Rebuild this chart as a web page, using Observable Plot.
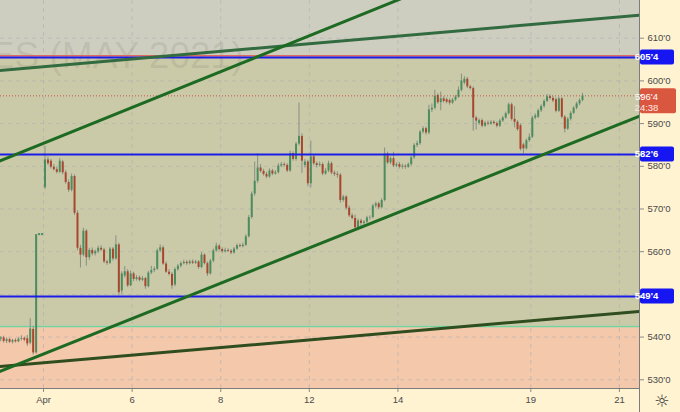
<!DOCTYPE html>
<html><head><meta charset="utf-8">
<script src="https://cdn.jsdelivr.net/npm/d3@7"></script>
<script src="https://cdn.jsdelivr.net/npm/@observablehq/plot@0.6"></script>
<style>
html,body{margin:0;padding:0;background:#fff3d1;}
#chart{position:relative;width:680px;height:412px;overflow:hidden;}
</style></head><body><div id="chart"></div>
<script>
// ---- data ----
const watermark = "CORN FUTURES (MAY 2021)";
const sessions = ["Mar 31","Apr 1","Apr 5","Apr 6","Apr 7","Apr 8","Apr 9","Apr 12","Apr 13","Apr 14","Apr 15","Apr 16","Apr 19","Apr 20","Apr 21"];
const barsPerSession = 15;
// [open, high, low, close], consecutive bars starting with the Mar 31 session
const candles = [
 [539.5,540.1,538.9,539.8],[539.8,540.2,538.6,539.0],[539.0,539.8,538.5,539.4],[539.4,539.7,538.5,538.8],[538.8,539.5,538.4,539.2],
 [539.2,539.6,538.6,538.9],[538.9,539.8,538.7,539.5],[539.5,540.3,539.1,539.7],[539.7,540.0,538.9,539.3],[539.6,540.4,537.8,538.4],
 [538.6,544.3,538.2,541.9],[541.8,542.5,535.8,536.3],[536.3,564.0,536.0,564.0],[564.0,564.0,564.0,564.0],[564.0,564.0,564.0,564.0],
 // Apr 1
 [575.0,584.7,574.5,581.5],[581.5,582.2,580.2,580.6],[581.2,581.6,579.4,579.8],[579.8,580.4,578.9,579.2],[579.2,579.8,578.2,578.6],
 [578.6,581.8,578.3,581.2],[581.0,581.4,578.0,578.5],[578.5,579.0,575.8,576.2],[576.2,576.8,573.9,574.4],[574.4,578.2,574.0,577.6],
 [577.6,578.0,568.5,569.0],[569.0,569.6,560.2,560.8],[560.8,561.5,556.2,559.2],[559.2,565.5,558.8,564.8],[564.8,565.2,556.6,558.6],
 // Apr 5
 [558.6,560.8,558.0,560.3],[560.3,560.9,559.0,559.5],[559.5,560.4,559.0,560.0],[560.0,561.3,559.6,560.8],[560.8,561.4,560.0,560.4],
 [560.4,560.8,557.2,557.6],[557.6,558.0,556.8,557.3],[557.3,561.0,557.0,560.6],[560.6,561.0,557.8,558.3],[558.3,563.7,558.0,561.6],
 [561.6,562.0,549.7,550.4],[550.8,555.3,550.0,554.8],[554.3,556.5,553.8,555.3],[555.3,555.8,551.6,552.0],[552.0,555.5,551.8,554.8],
 // Apr 6
 [554.8,555.2,553.0,553.5],[553.5,554.4,553.1,553.9],[553.9,554.3,552.9,553.3],[553.3,554.2,553.0,553.7],[553.7,554.0,551.2,551.8],
 [551.8,555.4,551.5,555.0],[555.0,556.6,554.6,555.6],[555.6,556.4,555.1,555.9],[555.9,560.6,555.6,560.2],[560.2,561.6,559.8,560.9],
 [560.9,561.3,556.8,557.1],[557.1,557.6,554.9,555.2],[555.2,555.8,554.3,554.7],[554.7,555.1,551.2,552.0],[552.2,556.2,551.8,555.8],
 // Apr 7
 [555.8,557.0,555.4,556.6],[556.6,557.6,556.2,557.2],[557.2,558.0,556.9,557.5],[557.5,557.9,556.8,557.2],[557.2,558.0,556.9,557.6],
 [557.6,558.1,557.0,557.3],[557.3,558.0,557.0,557.6],[557.6,557.9,555.9,556.3],[556.3,559.8,556.0,559.2],[559.2,559.5,556.9,557.2],
 [557.2,557.6,554.2,554.8],[554.8,558.2,554.5,557.8],[557.8,560.6,557.4,560.2],[560.2,562.0,559.9,561.3],[561.3,561.7,560.1,560.5],
 // Apr 8
 [560.5,560.9,559.6,560.0],[560.0,560.8,559.7,560.3],[560.3,560.7,559.8,560.1],[560.1,560.5,559.3,559.7],[559.7,561.0,559.4,560.6],
 [560.6,561.8,560.3,561.4],[561.4,561.8,560.9,561.2],[561.2,562.0,560.9,561.5],[561.5,564.0,561.2,563.5],[563.5,568.5,563.2,568.0],
 [568.0,574.0,567.6,573.5],[573.5,581.0,573.0,576.5],[576.5,582.9,576.0,579.6],[579.6,580.4,578.4,578.8],[578.8,579.3,577.7,578.1],
 // Apr 9
 [578.1,578.6,577.1,577.5],[577.5,579.4,577.2,578.9],[578.9,579.3,577.8,578.2],[578.2,579.0,577.9,578.5],[578.5,580.6,578.2,580.1],
 [580.1,580.9,579.7,580.4],[580.4,580.8,579.8,580.2],[580.2,580.6,578.5,578.9],[578.9,583.6,578.6,583.0],[583.0,583.4,581.2,581.6],
 [581.6,585.6,581.2,585.2],[585.2,594.8,584.8,587.0],[587.0,587.6,578.3,581.2],[580.2,581.6,579.6,581.0],[581.0,581.4,575.2,575.9],
 // Apr 12
 [575.9,585.9,574.9,582.2],[582.2,582.6,580.2,580.6],[580.6,581.0,579.6,580.2],[580.2,581.0,579.8,580.4],[580.4,580.8,577.8,578.2],
 [578.2,579.5,577.9,578.9],[578.9,581.2,578.5,580.6],[580.6,581.0,578.0,578.4],[578.4,578.9,577.6,578.1],[578.1,578.7,577.2,577.9],
 [577.9,578.3,571.4,572.0],[572.0,573.2,571.6,572.8],[572.8,573.1,569.8,570.2],[570.2,570.7,568.0,568.4],[568.4,568.9,567.4,567.8],
 // Apr 13
 [567.8,568.6,565.2,565.6],[565.6,567.6,565.3,567.2],[567.2,567.6,565.3,566.6],[566.6,567.3,566.2,566.9],[566.9,568.3,566.6,567.9],
 [567.9,568.4,567.4,568.0],[568.0,571.1,567.7,570.7],[570.7,571.6,570.2,571.2],[571.2,571.6,569.9,570.3],[570.3,572.4,570.0,572.0],
 [572.0,584.3,571.7,582.9],[582.9,583.3,580.4,580.8],[580.8,582.2,580.4,581.8],[581.8,583.3,579.7,580.1],[580.1,580.8,579.7,580.4],
 // Apr 14
 [580.4,580.9,579.4,579.8],[579.8,580.5,579.3,580.0],[580.0,580.4,579.3,579.8],[579.8,580.8,579.5,580.4],[580.4,582.4,580.0,582.0],
 [582.0,585.3,581.6,584.9],[584.9,585.9,584.4,585.3],[585.3,588.4,584.9,588.0],[588.0,589.3,587.6,588.8],[588.8,589.2,587.3,587.8],
 [587.8,594.3,587.4,593.2],[593.2,594.6,592.6,593.6],[593.6,597.8,593.2,596.4],[596.6,597.0,594.5,594.9],[594.9,597.4,593.0,595.8],
 // Apr 15
 [595.8,596.3,594.8,595.2],[595.6,596.0,594.6,595.0],[595.4,595.8,594.3,594.8],[594.8,595.9,594.5,595.5],[595.5,596.6,595.2,596.2],
 [596.2,598.6,595.9,597.8],[597.8,601.6,597.4,600.0],[599.5,601.0,599.1,600.4],[600.4,600.8,598.2,598.6],[598.6,599.0,597.8,598.2],
 [598.2,598.6,588.2,591.3],[591.3,591.7,588.5,590.6],[590.0,591.1,589.6,590.7],[590.7,591.1,589.0,589.4],[589.4,590.5,589.1,590.1],
 // Apr 16
 [590.1,590.6,589.5,589.9],[589.9,590.7,589.6,590.3],[590.3,590.7,589.7,590.0],[590.0,590.4,589.0,589.4],[589.4,591.0,589.1,590.6],
 [590.6,591.7,590.3,591.3],[591.3,592.7,591.0,592.3],[592.3,594.8,592.0,594.4],[594.4,594.8,590.6,591.0],[591.0,594.0,589.0,590.3],
 [590.3,590.7,588.2,588.6],[589.5,589.9,583.6,584.0],[585.0,585.4,582.9,584.1],[584.1,586.4,583.8,586.0],[586.0,587.6,585.6,586.8],
 // Apr 19
 [586.8,591.7,586.5,591.3],[591.3,592.3,590.9,591.8],[591.5,593.4,591.2,593.0],[593.0,594.4,592.6,594.0],[594.0,595.6,593.6,595.2],
 [595.2,596.8,594.9,596.3],[596.3,596.7,595.5,595.9],[595.9,596.4,594.9,595.3],[595.6,596.0,592.5,592.9],[592.9,596.2,592.6,595.8],
 [595.8,596.1,591.1,591.5],[591.5,591.9,587.8,588.7],[588.7,591.4,588.4,591.0],[591.0,592.8,590.6,592.4],[592.4,594.0,592.1,593.6],
 // Apr 20
 [593.6,595.0,593.2,594.6],[594.6,595.8,594.2,595.4],[595.4,597.1,595.1,596.5]
];
const tickSessions = ["Apr 1","Apr 6","Apr 8","Apr 12","Apr 14","Apr 19","Apr 21"];
const tickLabels = ["Apr","6","8","12","14","19","21"];
const priceTicks = [530,540,550,560,570,580,590,600,610];
const levels = [605.5, 582.75, 549.5];
const levelLabels = ["605'4","582'6","549'4"];
const redLevel = 605.9;
const mintLevel = 542.5;
const lastPrice = 596.5, lastLabel = "596'4", countdown = "24:38";
// trend lines: [bar, price] end points
const trendSteepUpper = [[-20, 579.93],[130, 621.90]];
const trendSteepLower = [[-20, 530.66],[205, 592.78]];
const trendFlatUpper  = [[-20, 602.15],[205, 615.61]];
const trendFlatLower  = [[-20, 532.83],[205, 546.22]];
const xDomain = [-15.07, 201.3];
const yDomain = [527.96, 618.83];

// ---- build ----
const bars = candles.map(([o,h,l,c], i) => ({b: i - barsPerSession, o, h, l, c}));
const upBars = bars.filter(d => d.c > d.o);
const downBars = bars.filter(d => d.c < d.o);
const flatBars = bars.filter(d => d.c === d.o);
const tickValues = tickSessions.map(s => (sessions.indexOf(s) - 1) * barsPerSession - 0.5);
const tickMap = new Map(tickValues.map((v, i) => [v, tickLabels[i]]));
const pts = a => a.map(([b, p]) => ({b, p}));
const fmt = d => `${d}'0`;
// axis labels hidden behind the level badges are not drawn (as in the reference)
const labelTicks = priceTicks.filter(t => levels.every(l => Math.abs(l - t) > 2.5));

const zones = [
  {lo: redLevel, hi: yDomain[1], fill: "#cecec0"},
  {lo: mintLevel, hi: redLevel, fill: "#cbcaa8"},
  {lo: yDomain[0], hi: mintLevel, fill: "#f4c8aa"}
];
const upColor = "#4b8d5f", downColor = "#a8462e", wickColor = "#858f85";
const font = "'Liberation Sans', Arial, sans-serif";

const chart = Plot.plot({
  width: 680, height: 412,
  marginTop: 0, marginLeft: 0, marginRight: 41, marginBottom: 24,
  x: {domain: xDomain},
  y: {domain: yDomain},
  style: {background: "#fff3d1", fontFamily: font, fontSize: "9.5px", color: "#4a4a4a"},
  marks: [
    ...zones.map(z => Plot.rect([z], {x1: () => xDomain[0], x2: () => xDomain[1], y1: "lo", y2: "hi", fill: z.fill})),
    Plot.ruleY(priceTicks, {stroke: "#a9adb0", strokeOpacity: 0.55, strokeDasharray: "4,4"}),
    Plot.ruleX(tickValues, {stroke: "#a9adb0", strokeOpacity: 0.55, strokeDasharray: "4,4"}),
    Plot.text([watermark], {text: d => d, frameAnchor: "top-left", dx: 243, dy: 41, textAnchor: "end", fontSize: 37, fill: "#6f6f66", fillOpacity: 0.17}),
    Plot.ruleY([redLevel], {stroke: "#e06a62", strokeWidth: 1.6}),
    Plot.ruleY([mintLevel], {stroke: "#72d4a4", strokeWidth: 1.5}),
    Plot.ruleY([lastPrice], {stroke: "#c9554a", strokeDasharray: "1,2", strokeWidth: 1}),
    Plot.ruleX(bars, {x: "b", y1: "l", y2: "h", stroke: wickColor, strokeWidth: 1}),
    Plot.ruleX(upBars, {x: "b", y1: "o", y2: "c", stroke: upColor, strokeWidth: 2}),
    Plot.ruleX(downBars, {x: "b", y1: "o", y2: "c", stroke: downColor, strokeWidth: 2}),
    Plot.ruleX(flatBars, {x: "b", y1: "o", y2: "c", stroke: upColor, strokeWidth: 2, strokeLinecap: "square"}),
    Plot.ruleY(levels, {stroke: "#1c1ce8", strokeWidth: 2}),
    Plot.line(pts(trendFlatLower), {x: "b", y: "p", stroke: "#2f4d1f", strokeWidth: 3, clip: true}),
    Plot.line(pts(trendFlatUpper), {x: "b", y: "p", stroke: "#336b40", strokeWidth: 3, clip: true}),
    Plot.line(pts(trendSteepUpper), {x: "b", y: "p", stroke: "#1d6a22", strokeWidth: 3, clip: true}),
    Plot.line(pts(trendSteepLower), {x: "b", y: "p", stroke: "#1d6a22", strokeWidth: 3, clip: true}),
    Plot.axisY(labelTicks, {anchor: "right", tickFormat: fmt, tickSize: 4, tickPadding: 4, fill: "#4a4a4a", stroke: "#8a8a8a", label: null}),
    Plot.axisX(tickValues, {tickFormat: d => tickMap.get(d), tickSize: 4, tickPadding: 4, fill: "#4a4a4a", stroke: "#8a8a8a", label: null})
  ]
});
document.getElementById("chart").appendChild(chart);

// axis separators and price badges
const svg = d3.select(chart);
const y = chart.scale("y");
svg.append("line").attr("x1", 639.5).attr("x2", 639.5).attr("y1", 0).attr("y2", 412).attr("stroke", "#7c7c7c");
svg.append("line").attr("x1", 0).attr("x2", 639.5).attr("y1", 388.5).attr("y2", 388.5).attr("stroke", "#7c7c7c");
levels.forEach((v, i) => {
  const yy = y.apply(v);
  const g = svg.append("g");
  g.append("rect").attr("x", 640).attr("y", yy - 7.5).attr("width", 34).attr("height", 15).attr("rx", 2).attr("fill", "#1616f2");
  g.append("line").attr("x1", 640).attr("x2", 642.5).attr("y1", yy).attr("y2", yy).attr("stroke", "#fff");
  g.append("text").attr("x", 646.5).attr("y", yy).attr("dy", "0.35em").attr("fill", "#fff")
    .attr("font-size", "9.5px").attr("font-weight", "bold").attr("font-family", font).text(levelLabels[i]);
});
{
  const yy = y.apply(lastPrice);
  const g = svg.append("g");
  g.append("rect").attr("x", 640).attr("y", yy - 7).attr("width", 36).attr("height", 25).attr("rx", 2).attr("fill", "#d9573f");
  g.append("line").attr("x1", 640).attr("x2", 642.5).attr("y1", yy).attr("y2", yy).attr("stroke", "#fff");
  g.append("text").attr("x", 646.5).attr("y", yy + 1).attr("dy", "0.35em").attr("fill", "#fff")
    .attr("font-size", "9.5px").attr("font-family", font).text(lastLabel);
  g.append("text").attr("x", 646.5).attr("y", yy + 12).attr("dy", "0.35em").attr("fill", "#fde8e2")
    .attr("font-size", "9.5px").attr("font-family", font).text(countdown);
}
svg.append("text").attr("x", 662).attr("y", 401).attr("dy", "0.35em").attr("text-anchor", "middle")
  .attr("font-size", "17px").attr("fill", "#333").attr("font-family", "'DejaVu Sans', sans-serif").text("☼");
</script></body></html>
